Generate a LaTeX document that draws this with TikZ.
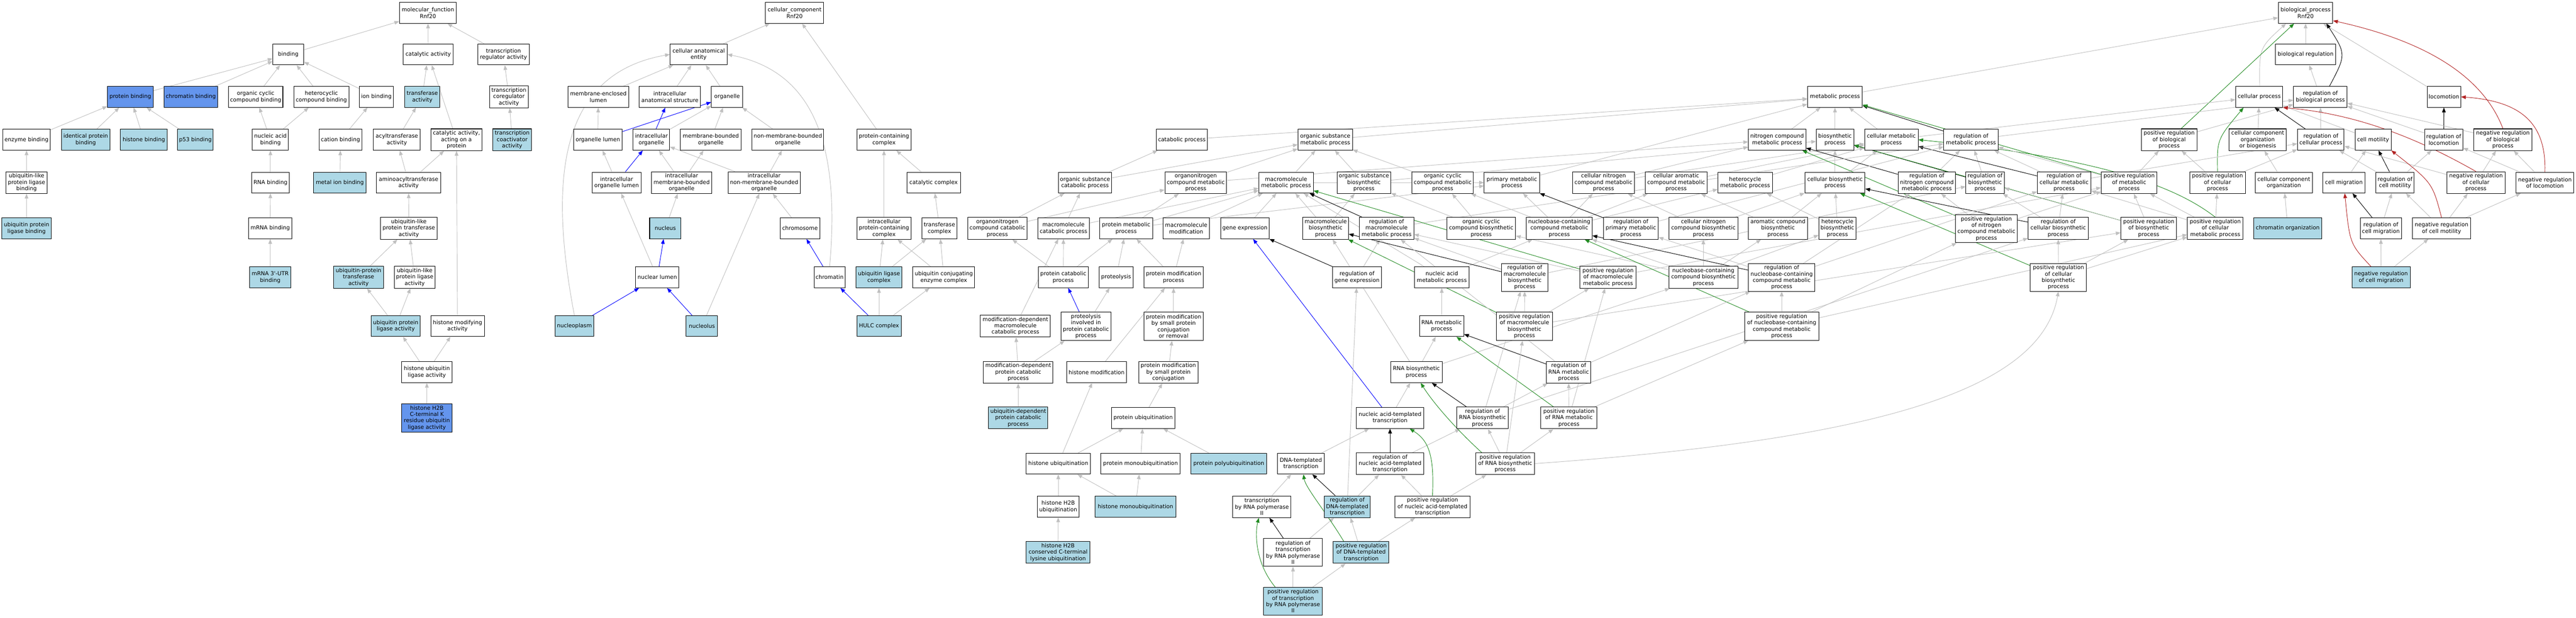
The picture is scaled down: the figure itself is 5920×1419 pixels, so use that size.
\documentclass[tikz,border=0pt]{standalone}
\usepackage{fontspec}
\setmainfont{DejaVu Sans}
\usetikzlibrary{arrows.meta,backgrounds}
\definecolor{lbF}{HTML}{ADD8E6}
\definecolor{cbF}{HTML}{6495ED}
\definecolor{edgeG}{HTML}{C0C0C0}
\definecolor{fgreen}{HTML}{228B22}
\definecolor{fred}{HTML}{B22222}
\newcommand{\gn}[7]{\node[box,#6,minimum width={(#3-#2)*1pt},minimum height={#5*1pt}] (#1) at ({(#2+#3)/2},#4) {#7};}
\newcommand{\E}[3][ed]{\draw[#1] (#2) -- (#3);}
\begin{document}
\begin{tikzpicture}[x=1pt,y=-1pt,
  box/.style={draw=black,line width=1.2pt,fill=white,rectangle,inner sep=1pt,align=center,font=\fontsize{12.6}{14.6}\selectfont},
  lb/.style={fill=lbF},
  db/.style={fill=cbF},
  ed/.style={draw=edgeG,line width=1.1pt,-{Triangle[length=11pt,width=8.5pt]}},
  edb/.style={ed,draw=blue},
  edg/.style={ed,draw=fgreen},
  edr/.style={ed,draw=fred},
  edk/.style={ed,draw=black}]
\useasboundingbox (0,0) rectangle (5920,1419);
% ---------------- molecular function ----------------
\gn{mf}{918}{1049}{29.5}{48}{}{molecular\_function\\Rnf20}
\gn{bind}{627}{698}{125}{48}{}{binding}
\gn{cat}{927}{1041}{125}{48}{}{catalytic activity}
\gn{trreg}{1098}{1216}{125}{48}{}{transcription\\regulator activity}
\gn{pbind}{247}{352}{222.5}{48}{db}{protein binding}
\gn{chrbind}{377}{500}{222.5}{48}{db}{chromatin binding}
\gn{occb}{525}{650}{222.5}{48}{}{organic cyclic\\compound binding}
\gn{hccb}{675}{802}{222.5}{48}{}{heterocyclic\\compound binding}
\gn{ionb}{826}{904}{222.5}{48}{}{ion binding}
\gn{trans}{930}{1011}{222.5}{48}{lb}{transferase\\activity}
\gn{trcoreg}{1125}{1214}{222.5}{50}{}{transcription\\coregulator\\activity}
\gn{enzb}{6}{116}{321}{48}{}{enzyme binding}
\gn{idpb}{141}{253}{321}{48}{lb}{identical protein\\binding}
\gn{hisb}{277}{384}{321}{48}{lb}{histone binding}
\gn{p53b}{408}{490}{321}{48}{lb}{p53 binding}
\gn{nab}{580}{663}{321}{48}{}{nucleic acid\\binding}
\gn{catb}{733}{832}{321}{48}{}{cation binding}
\gn{acyl}{858}{966}{321}{48}{}{acyltransferase\\activity}
\gn{catprot}{990}{1108}{321}{50}{}{catalytic activity,\\acting on a\\protein}
\gn{trcoact}{1133}{1221}{321}{50}{lb}{transcription\\coactivator\\activity}
\gn{ublpb}{14}{108}{419.5}{50}{}{ubiquitin-like\\protein ligase\\binding}
\gn{rnab}{578}{665}{419.5}{48}{}{RNA binding}
\gn{metb}{721}{841}{419.5}{48}{lb}{metal ion binding}
\gn{aminoacyl}{865}{1013}{419.5}{48}{}{aminoacyltransferase\\activity}
\gn{ubplb}{4}{118}{524.5}{48}{lb}{ubiquitin protein\\ligase binding}
\gn{mrnab}{571}{671}{524.5}{48}{}{mRNA binding}
\gn{ubltr}{874}{1005}{524.5}{50}{}{ubiquitin-like\\protein transferase\\activity}
\gn{utrb}{574}{668}{637}{48}{lb}{mRNA 3\textquotesingle-UTR\\binding}
\gn{ubptr}{767}{881}{637}{50}{lb}{ubiquitin-protein\\transferase\\activity}
\gn{ublla}{906}{1000}{637}{50}{}{ubiquitin-like\\protein ligase\\activity}
\gn{ubpla}{853}{966}{749}{48}{lb}{ubiquitin protein\\ligase activity}
\gn{hma}{990}{1113}{749}{48}{}{histone modifying\\activity}
\gn{hula}{923}{1039}{855}{48}{}{histone ubiquitin\\ligase activity}
\gn{h2bla}{923}{1039}{960}{65}{db}{histone H2B\\C-terminal K\\residue ubiquitin\\ligase activity}
% ---------------- cellular component ----------------
\gn{cc}{1759}{1893}{29.5}{48}{}{cellular\_component\\Rnf20}
\gn{cae}{1540}{1671}{125}{48}{}{cellular anatomical\\entity}
\gn{mel}{1305}{1445}{222.5}{48}{}{membrane-enclosed\\lumen}
\gn{ias}{1469}{1610}{222.5}{48}{}{intracellular\\anatomical structure}
\gn{org}{1635}{1707}{222.5}{48}{}{organelle}
\gn{orgl}{1318}{1430}{321}{48}{}{organelle lumen}
\gn{iorg}{1455}{1539}{321}{48}{}{intracellular\\organelle}
\gn{mbo}{1564}{1703}{321}{48}{}{membrane-bounded\\organelle}
\gn{nmbo}{1728}{1893}{321}{48}{}{non-membrane-bounded\\organelle}
\gn{pcc}{1969}{2094}{321}{48}{}{protein-containing\\complex}
\gn{iol}{1361}{1473}{419.5}{48}{}{intracellular\\organelle lumen}
\gn{imbo}{1497}{1636}{419.5}{50}{}{intracellular\\membrane-bounded\\organelle}
\gn{inmbo}{1673}{1839}{419.5}{50}{}{intracellular\\non-membrane-bounded\\organelle}
\gn{catc}{2084}{2207}{419.5}{48}{}{catalytic complex}
\gn{nuc}{1493}{1565}{524.5}{48}{lb}{nucleus}
\gn{chrom}{1793}{1884}{524.5}{48}{}{chromosome}
\gn{ipcc}{1969}{2094}{524.5}{50}{}{intracellular\\protein-containing\\complex}
\gn{trc}{2119}{2199}{524.5}{48}{}{transferase\\complex}
\gn{nl}{1461}{1560}{637}{48}{}{nuclear lumen}
\gn{chrtn}{1871}{1942}{637}{48}{}{chromatin}
\gn{ulc}{1967}{2073}{637}{48}{lb}{ubiquitin ligase\\complex}
\gn{ucec}{2098}{2240}{637}{48}{}{ubiquitin conjugating\\enzyme complex}
\gn{npl}{1276}{1364}{749}{48}{lb}{nucleoplasm}
\gn{nlo}{1577}{1649}{749}{48}{lb}{nucleolus}
\gn{hulc}{1969}{2071}{749}{48}{lb}{HULC complex}
% ---------------- biological process ----------------
\gn{bp}{5236}{5361}{29.5}{48}{}{biological\_process\\Rnf20}
\gn{breg}{5229}{5368}{125}{48}{}{biological regulation}
\gn{cp}{5138}{5246}{222.5}{48}{}{cellular process}
\gn{rbp}{5271}{5394}{222.5}{48}{}{regulation of\\biological process}
\gn{loc}{5578}{5655}{222.5}{48}{}{locomotion}
\gn{mp}{4154}{4280}{222.5}{48}{}{metabolic process}
\gn{catp}{2657}{2775}{321}{48}{}{catabolic process}
\gn{osmp}{2983}{3108}{321}{48}{}{organic substance\\metabolic process}
\gn{ncmp}{4018}{4150}{321}{48}{}{nitrogen compound\\metabolic process}
\gn{bsp}{4174}{4260}{321}{48}{}{biosynthetic\\process}
\gn{cmp}{4285}{4408}{321}{48}{}{cellular metabolic\\process}
\gn{rmp}{4467}{4592}{321}{48}{}{regulation of\\metabolic process}
\gn{prbp}{4921}{5049}{321}{50}{}{positive regulation\\of biological\\process}
\gn{ccob}{5123}{5254}{321}{50}{}{cellular component\\organization\\or biogenesis}
\gn{rcp}{5280}{5387}{321}{48}{}{regulation of\\cellular process}
\gn{cmot}{5412}{5495}{321}{48}{}{cell motility}
\gn{rloc}{5572}{5660}{321}{48}{}{regulation of\\locomotion}
\gn{nrbp}{5685}{5819}{321}{50}{}{negative regulation\\of biological\\process}
\gn{oscp}{2432}{2555}{419.5}{48}{}{organic substance\\catabolic process}
\gn{oncmp}{2677}{2819}{419.5}{50}{}{organonitrogen\\compound metabolic\\process}
\gn{mmp}{2893}{3018}{419.5}{48}{}{macromolecule\\metabolic process}
\gn{osbp}{3073}{3196}{419.5}{50}{}{organic substance\\biosynthetic\\process}
\gn{occmp}{3245}{3386}{419.5}{50}{}{organic cyclic\\compound metabolic\\process}
\gn{pmp}{3411}{3538}{419.5}{48}{}{primary metabolic\\process}
\gn{cncmp}{3614}{3756}{419.5}{50}{}{cellular nitrogen\\compound metabolic\\process}
\gn{cacmp}{3781}{3923}{419.5}{50}{}{cellular aromatic\\compound metabolic\\process}
\gn{hmp}{3948}{4073}{419.5}{48}{}{heterocycle\\metabolic process}
\gn{cbp}{4148}{4286}{419.5}{48}{}{cellular biosynthetic\\process}
\gn{rncmp}{4362}{4494}{419.5}{50}{}{regulation of\\nitrogen compound\\metabolic process}
\gn{rbsp}{4518}{4606}{419.5}{50}{}{regulation of\\biosynthetic\\process}
\gn{rcmp}{4682}{4805}{419.5}{50}{}{regulation of\\cellular metabolic\\process}
\gn{prmp}{4829}{4957}{419.5}{50}{}{positive regulation\\of metabolic\\process}
\gn{prcp}{5032}{5160}{419.5}{50}{}{positive regulation\\of cellular\\process}
\gn{cco}{5183}{5314}{419.5}{48}{}{cellular component\\organization}
\gn{cmig}{5338}{5435}{419.5}{48}{}{cell migration}
\gn{rcmot}{5460}{5548}{419.5}{48}{}{regulation of\\cell motility}
\gn{nrcp}{5623}{5757}{419.5}{50}{}{negative regulation\\of cellular\\process}
\gn{nrloc}{5782}{5915}{419.5}{48}{}{negative regulation\\of locomotion}
\gn{onccp}{2224}{2360}{524.5}{50}{}{organonitrogen\\compound catabolic\\process}
\gn{mcp}{2385}{2503}{524.5}{48}{}{macromolecule\\catabolic process}
\gn{prmetp}{2527}{2649}{524.5}{48}{}{protein metabolic\\process}
\gn{mmod}{2673}{2779}{524.5}{48}{}{macromolecule\\modification}
\gn{gexp}{2805}{2917}{524.5}{48}{}{gene expression}
\gn{mbsp}{2994}{3099}{524.5}{50}{}{macromolecule\\biosynthetic\\process}
\gn{rmmp}{3124}{3249}{524.5}{50}{}{regulation of\\macromolecule\\metabolic process}
\gn{occbp}{3325}{3483}{524.5}{50}{}{organic cyclic\\compound biosynthetic\\process}
\gn{nbcmp}{3508}{3659}{524.5}{50}{}{nucleobase-containing\\compound metabolic\\process}
\gn{rpmp}{3685}{3811}{524.5}{50}{}{regulation of\\primary metabolic\\process}
\gn{cncbp}{3835}{3994}{524.5}{50}{}{cellular nitrogen\\compound biosynthetic\\process}
\gn{acbp}{4018}{4154}{524.5}{50}{}{aromatic compound\\biosynthetic\\process}
\gn{hbp}{4180}{4265}{524.5}{50}{}{heterocycle\\biosynthetic\\process}
\gn{prncmp}{4494}{4636}{525.5}{64}{}{positive regulation\\of nitrogen\\compound metabolic\\process}
\gn{rcbp}{4661}{4799}{524.5}{50}{}{regulation of\\cellular biosynthetic\\process}
\gn{prbsp}{4874}{5002}{524.5}{50}{}{positive regulation\\of biosynthetic\\process}
\gn{prcmp}{5027}{5155}{524.5}{50}{}{positive regulation\\of cellular\\metabolic process}
\gn{chorg}{5179}{5336}{524.5}{48}{lb}{chromatin organization}
\gn{rcmig}{5424}{5519}{524.5}{48}{}{regulation of\\cell migration}
\gn{nrcmot}{5544}{5678}{524.5}{48}{}{negative regulation\\of cell motility}
\gn{pcatp}{2386}{2501}{637}{48}{}{protein catabolic\\process}
\gn{prot}{2526}{2604}{637}{48}{}{proteolysis}
\gn{pmodp}{2629}{2765}{637}{48}{}{protein modification\\process}
\gn{rge}{3062}{3175}{637}{48}{}{regulation of\\gene expression}
\gn{namp}{3251}{3376}{637}{48}{}{nucleic acid\\metabolic process}
\gn{rmbsp}{3451}{3557}{637.5}{63}{}{regulation of\\macromolecule\\biosynthetic\\process}
\gn{prmmp}{3631}{3760}{637}{50}{}{positive regulation\\of macromolecule\\metabolic process}
\gn{nbcbp}{3835}{3994}{637}{50}{}{nucleobase-containing\\compound biosynthetic\\process}
\gn{rnbcmp}{4018}{4171}{637.5}{63}{}{regulation of\\nucleobase-containing\\compound metabolic\\process}
\gn{prcbp}{4666}{4795}{637.5}{63}{}{positive regulation\\of cellular\\biosynthetic\\process}
\gn{nrcmig}{5405}{5539}{637}{48}{lb}{negative regulation\\of cell migration}
\gn{mdmcp}{2253}{2414}{749}{50}{}{modification-dependent\\macromolecule\\catabolic process}
\gn{pipcp}{2438}{2553}{749.5}{65}{}{proteolysis\\involved in\\protein catabolic\\process}
\gn{pmsprc}{2629}{2765}{749.5}{65}{}{protein modification\\by small protein\\conjugation\\or removal}
\gn{rnamp}{3262}{3364}{749}{48}{}{RNA metabolic\\process}
\gn{prmbsp}{3439}{3568}{749.5}{65}{}{positive regulation\\of macromolecule\\biosynthetic\\process}
\gn{prnbcmp}{4009}{4180}{749.5}{65}{}{positive regulation\\of nucleobase-containing\\compound metabolic\\process}
\gn{mdpcp}{2260}{2420}{855}{50}{}{modification-dependent\\protein catabolic\\process}
\gn{hmod}{2451}{2589}{855}{48}{}{histone modification}
\gn{pmspc}{2617}{2753}{855}{50}{}{protein modification\\by small protein\\conjugation}
\gn{rnabp}{3196}{3314}{855}{48}{}{RNA biosynthetic\\process}
\gn{rrnamp}{3554}{3656}{855}{50}{}{regulation of\\RNA metabolic\\process}
\gn{udpcp}{2272}{2408}{960}{50}{lb}{ubiquitin-dependent\\protein catabolic\\process}
\gn{pubq}{2554}{2700}{960}{48}{}{protein ubiquitination}
\gn{natt}{3117}{3272}{960}{48}{}{nucleic acid-templated\\transcription}
\gn{rrnabp}{3348}{3466}{960}{50}{}{regulation of\\RNA biosynthetic\\process}
\gn{prrnamp}{3541}{3670}{960}{50}{}{positive regulation\\of RNA metabolic\\process}
\gn{hubq}{2358}{2506}{1065}{48}{}{histone ubiquitination}
\gn{pmubq}{2530}{2712}{1065}{48}{}{protein monoubiquitination}
\gn{ppubq}{2737}{2911}{1065}{48}{lb}{protein polyubiquitination}
\gn{dtt}{2936}{3043}{1065}{48}{}{DNA-templated\\transcription}
\gn{rnatt}{3117}{3272}{1065}{50}{}{regulation of\\nucleic acid-templated\\transcription}
\gn{prrnabp}{3392}{3526}{1065}{50}{}{positive regulation\\of RNA biosynthetic\\process}
\gn{h2bubq}{2384}{2480}{1164}{48}{}{histone H2B\\ubiquitination}
\gn{hmubq}{2517}{2702}{1164}{48}{lb}{histone monoubiquitination}
\gn{trpol}{2833}{2967}{1164}{50}{}{transcription\\by RNA polymerase\\II}
\gn{rdtt}{3043}{3149}{1164}{50}{lb}{regulation of\\DNA-templated\\transcription}
\gn{prnatt}{3206}{3378}{1164}{50}{}{positive regulation\\of nucleic acid-templated\\transcription}
\gn{h2bclu}{2358}{2505}{1269}{50}{lb}{histone H2B\\conserved C-terminal\\lysine ubiquitination}
\gn{rtrpol}{2904}{3039}{1269}{64}{}{regulation of\\transcription\\by RNA polymerase\\II}
\gn{prdtt}{3064}{3192}{1269}{50}{lb}{positive regulation\\of DNA-templated\\transcription}
\gn{prtrpol}{2904}{3039}{1381}{64}{lb}{positive regulation\\of transcription\\by RNA polymerase\\II}
% ---------------- connectors ----------------
\begin{pgfonlayer}{background}
\fill[white] (0,0) rectangle (5920,1419);
% MF
\E{bind}{mf} \E{cat}{mf} \E{trreg}{mf}
\E{pbind}{bind} \E{chrbind}{bind} \E{occb}{bind} \E{hccb}{bind} \E{ionb}{bind}
\E{trans}{cat} \E{catprot}{cat} \E{trcoreg}{trreg}
\E{enzb}{pbind} \E{idpb}{pbind} \E{hisb}{pbind} \E{p53b}{pbind}
\E{nab}{occb} \E{nab}{hccb} \E{catb}{ionb} \E{acyl}{trans} \E{trcoact}{trcoreg}
\E{ublpb}{enzb} \E{rnab}{nab} \E{metb}{catb} \E{aminoacyl}{acyl} \E{aminoacyl}{catprot}
\E{ubplb}{ublpb} \E{mrnab}{rnab} \E{ubltr}{aminoacyl} \E{utrb}{mrnab}
\E{ubptr}{ubltr} \E{ublla}{ubltr} \E{ubpla}{ubptr} \E{ubpla}{ublla}
\E{hma}{catprot} \E{hula}{ubpla} \E{hula}{hma} \E{h2bla}{hula}
% CC
\E{cae}{cc} \E{pcc}{cc}
\E{mel}{cae} \E{ias}{cae} \E{org}{cae}
\E{orgl}{mel} \E[edb]{orgl}{org}
\E[edb]{iorg}{ias} \E{iorg}{org} \E{mbo}{org} \E{nmbo}{org}
\E{iol}{orgl} \E[edb]{iol}{iorg}
\E{imbo}{iorg} \E{imbo}{mbo} \E{inmbo}{iorg} \E{inmbo}{nmbo}
\E{nuc}{imbo} \E{chrom}{inmbo}
\E{nl}{iol} \E[edb]{nl}{nuc}
\E[edb]{chrtn}{chrom}
\draw[ed] (chrtn.north) .. controls (1935,300) and (1850,160) .. (cae.east);
\E[edb]{npl}{nl}
\draw[ed] (npl.north) .. controls (1262,420) and (1280,170) .. (cae.west);
\E[edb]{nlo}{nl} \E{nlo}{inmbo}
\E{ipcc}{pcc} \E{catc}{pcc} \E{trc}{catc}
\E{ulc}{ipcc} \E{ulc}{trc} \E{ucec}{ipcc} \E{ucec}{trc}
\E{hulc}{ulc} \E{hulc}{ucec} \E[edb]{hulc}{chrtn}
% BP top
\E{mp}{bp} \E{breg}{bp} \E{loc}{bp}
\draw[ed] ([xshift=1pt]cp.north) .. controls (5192,110) .. ([xshift=-45pt]bp.south);
\draw[edk] ([xshift=21pt]rbp.north) .. controls (5392,125) .. ([xshift=48pt]bp.south);
\E[edg]{prbp}{bp}
\draw[edr] (nrbp.north) .. controls (5712,190) and (5600,100) .. ([yshift=-18pt]bp.east);
\E{rbp}{breg}
\E{catp}{mp} \E{osmp}{mp} \E{pmp}{mp} \E{ncmp}{mp} \E{bsp}{mp} \E{cmp}{mp}
\E[edk]{rmp}{mp} \E[edg]{prmp}{mp}
\E{cmp}{cp} \E{rmp}{rbp} \E{prbp}{rbp} \E{ccob}{cp}
\E[edk]{rcp}{cp} \E{rcp}{rbp} \E{cmot}{cp}
\E[edk]{rloc}{loc} \E{rloc}{rbp} \E{nrbp}{rbp}
\draw[edg] (prcp.north) .. controls (5095,320) .. ([xshift=-36pt]cp.south);
\E{prcp}{prbp} \E{prcp}{rcp}
\E{cco}{ccob} \E{cmig}{cmot}
\E[edk]{rcmot}{cmot} \E{rcmot}{rloc} \E{rcmot}{rcp}
\draw[edr] (nrcp.north) .. controls (5560,320) and (5420,262) .. (cp.south east);
\E{nrcp}{rcp} \E{nrcp}{nrbp}
\draw[edr] (nrloc.north) .. controls (5852,280) and (5790,232) .. (loc.east);
\E{nrloc}{rloc} \E{nrloc}{nrbp}
\draw[edg] (prcmp.north) .. controls (4990,420) and (4800,360) .. (cmp.east);
\E{prcmp}{prcp} \E{prcmp}{prmp} \E{prcmp}{rcmp}
\E{chorg}{cco}
\E[edk]{rcmig}{cmig} \E{rcmig}{rcmot}
\draw[edr] (nrcmot.north) .. controls (5590,420) .. (cmot.south east);
\E{nrcmot}{rcmot} \E{nrcmot}{nrcp} \E{nrcmot}{nrloc}
\draw[edr] ([xshift=-23pt]nrcmig.north) .. controls (5400,560) .. ([xshift=2pt]cmig.south);
\E{nrcmig}{rcmig} \E{nrcmig}{nrcmot}
% BP metabolic
\E{oscp}{catp} \E{oscp}{osmp}
\E{oncmp}{osmp} \E{oncmp}{ncmp}
\E{mmp}{osmp} \E{mmp}{pmp}
\E{osbp}{osmp} \E{osbp}{bsp}
\E{occmp}{osmp}
\E{cncmp}{ncmp} \E{cncmp}{cmp}
\E{cacmp}{cmp} \E{hmp}{cmp}
\E{cbp}{bsp} \E{cbp}{cmp}
\E[edk]{rncmp}{ncmp} \E{rncmp}{rmp}
\E[edk]{rbsp}{bsp} \E{rbsp}{rmp}
\E[edk]{rcmp}{cmp} \E{rcmp}{rmp} \E{rcmp}{rcp}
\E{prmp}{rmp} \E{prmp}{prbp}
\E{onccp}{oscp} \E{onccp}{oncmp}
\E{mcp}{oscp} \E{mcp}{mmp}
\E{prmetp}{oncmp} \E{prmetp}{mmp} \E{prmetp}{pmp}
\E{mmod}{mmp} \E{gexp}{mmp}
\E{mbsp}{mmp} \E{mbsp}{osbp}
\E[edk]{rmmp}{mmp} \E{rmmp}{rmp}
\E{occbp}{occmp} \E{occbp}{osbp}
\E{nbcmp}{occmp} \E{nbcmp}{pmp} \E{nbcmp}{cncmp} \E{nbcmp}{cacmp} \E{nbcmp}{hmp}
\E[edk]{rpmp}{pmp} \E{rpmp}{rmp}
\E{cncbp}{cncmp} \E{cncbp}{cbp}
\E{acbp}{cacmp} \E{acbp}{cbp}
\E{hbp}{hmp} \E{hbp}{cbp}
\E[edg]{prncmp}{ncmp} \E{prncmp}{rncmp} \E{prncmp}{prmp}
\E[edk]{rcbp}{cbp} \E{rcbp}{rbsp} \E{rcbp}{rcmp}
\E[edg]{prbsp}{bsp} \E{prbsp}{rbsp} \E{prbsp}{prmp}
\E{pcatp}{onccp} \E{pcatp}{mcp} \E{pcatp}{prmetp}
\E{prot}{prmetp}
\E{pmodp}{prmetp} \E{pmodp}{mmod}
\E[edk]{rge}{gexp} \E{rge}{rmmp}
\E{namp}{nbcmp} \E{namp}{mmp}
\E[edk]{rmbsp}{mbsp} \E{rmbsp}{rmmp} \E{rmbsp}{rbsp}
\E[edg]{prmmp}{mmp} \E{prmmp}{rmmp} \E{prmmp}{prmp}
\E{nbcbp}{nbcmp} \E{nbcbp}{cncbp} \E{nbcbp}{acbp} \E{nbcbp}{hbp} \E{nbcbp}{occbp}
\E[edk]{rnbcmp}{nbcmp} \E{rnbcmp}{rncmp} \E{rnbcmp}{rpmp} \E{rnbcmp}{rcmp}
\E[edg]{prcbp}{cbp} \E{prcbp}{rcbp} \E{prcbp}{prbsp} \E{prcbp}{prcmp}
\E{mdmcp}{mcp}
\E[edb]{pipcp}{pcatp} \E{pipcp}{prot}
\E{pmsprc}{pmodp}
\E{rnamp}{namp}
\E{prmbsp}{rmbsp} \E{prmbsp}{prmmp} \E{prmbsp}{prbsp} \E[edg]{prmbsp}{mbsp}
\E{prnbcmp}{rnbcmp} \E[edg]{prnbcmp}{nbcmp} \E{prnbcmp}{prcmp} \E{prnbcmp}{prncmp}
\E{mdpcp}{mdmcp} \E{mdpcp}{pipcp}
\E{hmod}{pmodp} \E{pmspc}{pmsprc}
\E{rnabp}{rnamp} \E{rnabp}{nbcbp} \E{rnabp}{mbsp}
\E[edk]{rrnamp}{rnamp} \E{rrnamp}{rnbcmp} \E{rrnamp}{rmmp}
\E{udpcp}{mdpcp} \E{pubq}{pmspc}
\E{natt}{rnabp} \E[edb]{natt}{gexp}
\E[edk]{rrnabp}{rnabp} \E{rrnabp}{rrnamp} \E{rrnabp}{rmbsp} \E{rrnabp}{rcbp}
\E[edg]{prrnamp}{rnamp} \E{prrnamp}{rrnamp} \E{prrnamp}{prmmp} \E{prrnamp}{prnbcmp}
\E{hubq}{hmod} \E{hubq}{pubq} \E{pmubq}{pubq} \E{ppubq}{pubq}
\E{dtt}{natt}
\E[edk]{rnatt}{natt} \E{rnatt}{rrnabp}
\draw[edg] ([xshift=-54pt]prrnabp.north) .. controls (3340,980) and (3290,920) .. ([xshift=10pt]rnabp.south);
\E{prrnabp}{rrnabp} \E{prrnabp}{prrnamp} \E{prrnabp}{prmbsp}
\draw[ed] (prrnabp.east) .. controls (4300,1010) and (4690,900) .. (prcbp.south);
\E{h2bubq}{hubq} \E{hmubq}{hubq} \E{hmubq}{pmubq}
\E{trpol}{dtt}
\E[edk]{rdtt}{dtt} \E{rdtt}{rnatt} \E{rdtt}{rge}
\draw[edg] (prnatt.north) .. controls (3297,1040) and (3280,1010) .. ([xshift=45pt]natt.south);
\E{prnatt}{rnatt} \E{prnatt}{prrnabp}
\E{h2bclu}{h2bubq}
\E{rtrpol}{rdtt} \E[edk]{rtrpol}{trpol}
\draw[edg] ([xshift=-40pt]prdtt.north) .. controls (3050,1180) and (3000,1120) .. ([xshift=6pt]dtt.south);
\E{prdtt}{rdtt} \E{prdtt}{prnatt}
\E{prtrpol}{rtrpol} \E{prtrpol}{prdtt}
\draw[edg] ([xshift=-41pt]prtrpol.north) .. controls (2882,1290) and (2885,1220) .. ([xshift=-7pt]trpol.south);
\end{pgfonlayer}
\end{tikzpicture}
\end{document}
